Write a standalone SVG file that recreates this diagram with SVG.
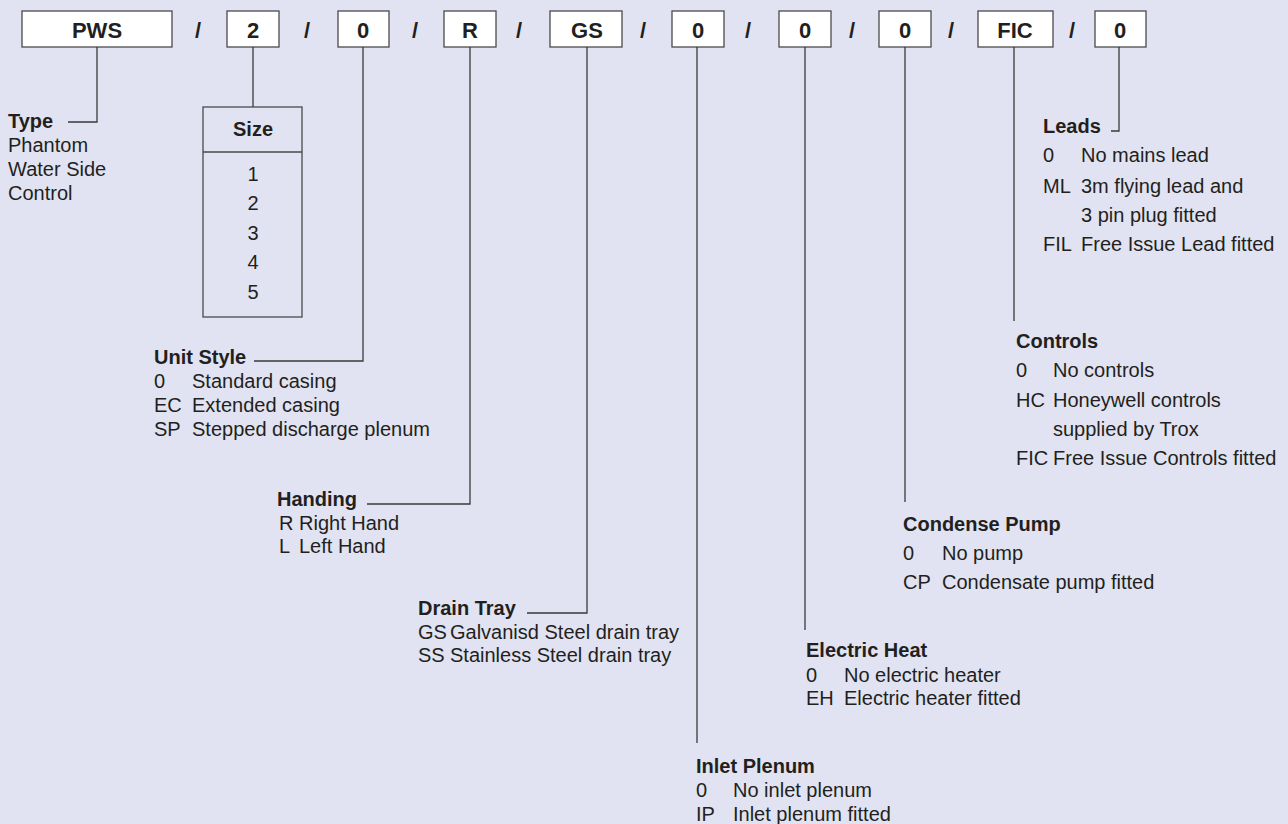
<svg xmlns="http://www.w3.org/2000/svg" width="1288" height="824" viewBox="0 0 1288 824">
<style>
text{font-family:"Liberation Sans",Arial,sans-serif;fill:#231f20}
.code{font-size:22px;font-weight:bold;text-anchor:middle}
.sl{font-size:22px;font-weight:bold;text-anchor:middle}
.t{font-size:20px;font-weight:bold}
.r{font-size:20px}
.box{fill:#fff;stroke:#4a4a4a;stroke-width:1.3}
.frame{fill:none;stroke:#4a4a4a;stroke-width:1.3}
.ln{fill:none;stroke:#3a3a3a;stroke-width:1.3}
</style>
<rect width="1288" height="824" fill="#e1e3f2"/>
<g id="code-row">
<g id="box-pws"><rect class="box" x="22" y="11" width="150" height="36"/><text class="code" x="97" y="38">PWS</text></g>
<text class="sl" x="198" y="38">/</text>
<g id="box-size"><rect class="box" x="227" y="11" width="52" height="36"/><text class="code" x="253" y="38">2</text></g>
<text class="sl" x="307" y="38">/</text>
<g id="box-unitstyle"><rect class="box" x="338" y="11" width="51" height="36"/><text class="code" x="363" y="38">0</text></g>
<text class="sl" x="415" y="38">/</text>
<g id="box-handing"><rect class="box" x="444" y="11" width="52" height="36"/><text class="code" x="470" y="38">R</text></g>
<text class="sl" x="519" y="38">/</text>
<g id="box-drain"><rect class="box" x="550" y="11" width="72" height="36"/><text class="code" x="587" y="38">GS</text></g>
<text class="sl" x="643" y="38">/</text>
<g id="box-inlet"><rect class="box" x="672" y="11" width="52" height="36"/><text class="code" x="698" y="38">0</text></g>
<text class="sl" x="748" y="38">/</text>
<g id="box-heat"><rect class="box" x="779" y="11" width="52" height="36"/><text class="code" x="805" y="38">0</text></g>
<text class="sl" x="852" y="38">/</text>
<g id="box-pump"><rect class="box" x="879" y="11" width="52" height="36"/><text class="code" x="905" y="38">0</text></g>
<text class="sl" x="951" y="38">/</text>
<g id="box-controls"><rect class="box" x="978" y="11" width="75" height="36"/><text class="code" x="1015" y="38">FIC</text></g>
<text class="sl" x="1072" y="38">/</text>
<g id="box-leads"><rect class="box" x="1095" y="11" width="51" height="36"/><text class="code" x="1120" y="38">0</text></g>
</g>
<g id="connectors">
<polyline class="ln" points="97,47 97,122 68,122"/>
<line class="ln" x1="253" y1="47" x2="253" y2="107"/>
<polyline class="ln" points="363,47 363,361 254,361"/>
<polyline class="ln" points="470,47 470,504 367,504"/>
<polyline class="ln" points="587,47 587,613 527,613"/>
<line class="ln" x1="697" y1="47" x2="697" y2="743"/>
<line class="ln" x1="805" y1="47" x2="805" y2="630"/>
<line class="ln" x1="905" y1="47" x2="905" y2="502"/>
<line class="ln" x1="1014" y1="47" x2="1014" y2="321"/>
<polyline class="ln" points="1119,47 1119,131 1111,131"/>
</g>
<g id="type">
<text class="t" x="8" y="128">Type</text>
<text class="r" x="8" y="152">Phantom</text>
<text class="r" x="8" y="176">Water Side</text>
<text class="r" x="8" y="200">Control</text>
</g>
<g id="size">
<rect class="frame" x="203" y="107" width="99" height="210"/>
<line class="frame" x1="203" y1="152" x2="302" y2="152"/>
<text class="t" x="253" y="136" text-anchor="middle">Size</text>
<text class="r" x="253" y="181" text-anchor="middle">1</text>
<text class="r" x="253" y="210" text-anchor="middle">2</text>
<text class="r" x="253" y="240" text-anchor="middle">3</text>
<text class="r" x="253" y="269" text-anchor="middle">4</text>
<text class="r" x="253" y="299" text-anchor="middle">5</text>
</g>
<g id="unit-style">
<text class="t" x="154" y="364">Unit Style</text>
<text class="r" x="154" y="388">0</text><text class="r" x="192" y="388">Standard casing</text>
<text class="r" x="154" y="412">EC</text><text class="r" x="192" y="412">Extended casing</text>
<text class="r" x="154" y="436">SP</text><text class="r" x="192" y="436">Stepped discharge plenum</text>
</g>
<g id="handing">
<text class="t" x="277" y="506">Handing</text>
<text class="r" x="279" y="530">R</text><text class="r" x="299" y="530">Right Hand</text>
<text class="r" x="279" y="553">L</text><text class="r" x="299" y="553">Left Hand</text>
</g>
<g id="drain-tray">
<text class="t" x="418" y="615">Drain Tray</text>
<text class="r" x="418" y="639">GS</text><text class="r" x="450" y="639">Galvanisd Steel drain tray</text>
<text class="r" x="418" y="662">SS</text><text class="r" x="450" y="662">Stainless Steel drain tray</text>
</g>
<g id="inlet-plenum">
<text class="t" x="696" y="773">Inlet Plenum</text>
<text class="r" x="696" y="797">0</text><text class="r" x="733" y="797">No inlet plenum</text>
<text class="r" x="696" y="821">IP</text><text class="r" x="733" y="821">Inlet plenum fitted</text>
</g>
<g id="electric-heat">
<text class="t" x="806" y="657">Electric Heat</text>
<text class="r" x="806" y="682">0</text><text class="r" x="844" y="682">No electric heater</text>
<text class="r" x="806" y="705">EH</text><text class="r" x="844" y="705">Electric heater fitted</text>
</g>
<g id="condense-pump">
<text class="t" x="903" y="531">Condense Pump</text>
<text class="r" x="903" y="560">0</text><text class="r" x="942" y="560">No pump</text>
<text class="r" x="903" y="589">CP</text><text class="r" x="942" y="589">Condensate pump fitted</text>
</g>
<g id="controls">
<text class="t" x="1016" y="348">Controls</text>
<text class="r" x="1016" y="377">0</text><text class="r" x="1053" y="377">No controls</text>
<text class="r" x="1016" y="407">HC</text><text class="r" x="1053" y="407">Honeywell controls</text>
<text class="r" x="1053" y="436">supplied by Trox</text>
<text class="r" x="1016" y="465">FIC</text><text class="r" x="1053" y="465">Free Issue Controls fitted</text>
</g>
<g id="leads">
<text class="t" x="1043" y="133">Leads</text>
<text class="r" x="1043" y="162">0</text><text class="r" x="1081" y="162">No mains lead</text>
<text class="r" x="1043" y="193">ML</text><text class="r" x="1081" y="193">3m flying lead and</text>
<text class="r" x="1081" y="222">3 pin plug fitted</text>
<text class="r" x="1043" y="251">FIL</text><text class="r" x="1081" y="251">Free Issue Lead fitted</text>
</g>
</svg>
